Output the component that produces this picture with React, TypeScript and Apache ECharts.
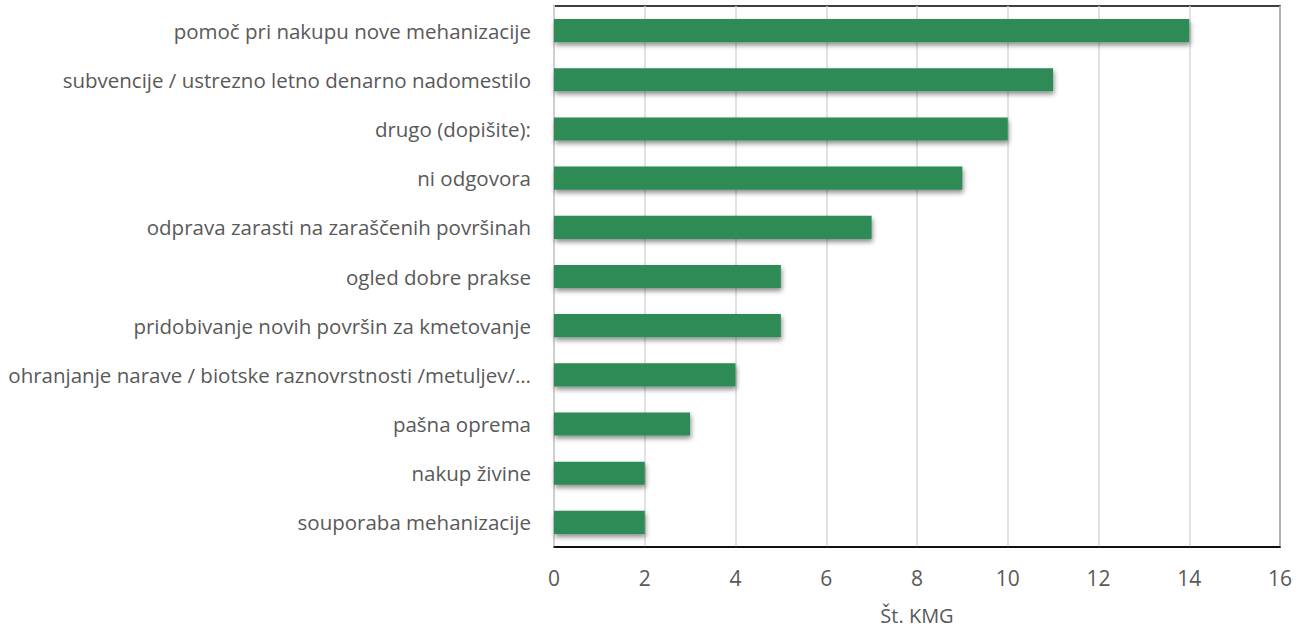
import React, { useEffect, useRef } from "react";
import * as echarts from "echarts";

const categories = [
  "pomoč pri nakupu nove mehanizacije",
  "subvencije / ustrezno letno denarno nadomestilo",
  "drugo (dopišite):",
  "ni odgovora",
  "odprava zarasti na zaraščenih površinah",
  "ogled dobre prakse",
  "pridobivanje novih površin za kmetovanje",
  "ohranjanje narave / biotske raznovrstnosti /metuljev/…",
  "pašna oprema",
  "nakup živine",
  "souporaba mehanizacije",
];
const values = [14, 11, 10, 9, 7, 5, 5, 4, 3, 2, 2];
const axisName = "Št. KMG";

export default function App() {
  const ref = useRef<HTMLDivElement>(null);
  useEffect(() => {
    const chart = echarts.init(ref.current!, null, { renderer: "svg" });
    const font = "Open Sans";
    chart.setOption({
      animation: false,
      textStyle: { fontFamily: font },
      grid: {
        left: 554,
        right: 26,
        top: 6,
        bottom: 80,
        outerBoundsMode: "none",
        containLabel: false,
        show: true,
        borderColor: "#000",
        borderWidth: 1.5,
        backgroundColor: "transparent",
      },
      xAxis: {
        type: "value",
        min: 0,
        max: 16,
        interval: 2,
        name: axisName,
        nameLocation: "middle",
        nameGap: 58,
        nameTextStyle: { color: "#595959", fontSize: 20, fontFamily: font },
        axisLine: { show: true, lineStyle: { color: "#000", width: 1.5 } },
        axisTick: { show: false },
        axisLabel: { color: "#595959", fontSize: 21, margin: 20, fontFamily: font },
        splitLine: { show: true, lineStyle: { color: "#d9d9d9", width: 1.5 } },
      },
      yAxis: {
        type: "category",
        inverse: true,
        data: categories,
        axisLine: { show: true, lineStyle: { color: "#d0d0d0", width: 2 } },
        axisTick: { show: false },
        axisLabel: { color: "#595959", fontSize: 20.5, margin: 23, fontFamily: font },
      },
      series: [
        {
          type: "bar",
          data: values,
          barWidth: "47%",
          itemStyle: {
            color: "#2e8b57",
            shadowColor: "rgba(0,0,0,0.45)",
            shadowBlur: 5,
            shadowOffsetX: 1,
            shadowOffsetY: 3,
          },
        },
      ],
    });
    return () => chart.dispose();
  }, []);
  return <div ref={ref} style={{ width: 1306, height: 627, position: "absolute", left: 0, top: 0 }} />;
}
